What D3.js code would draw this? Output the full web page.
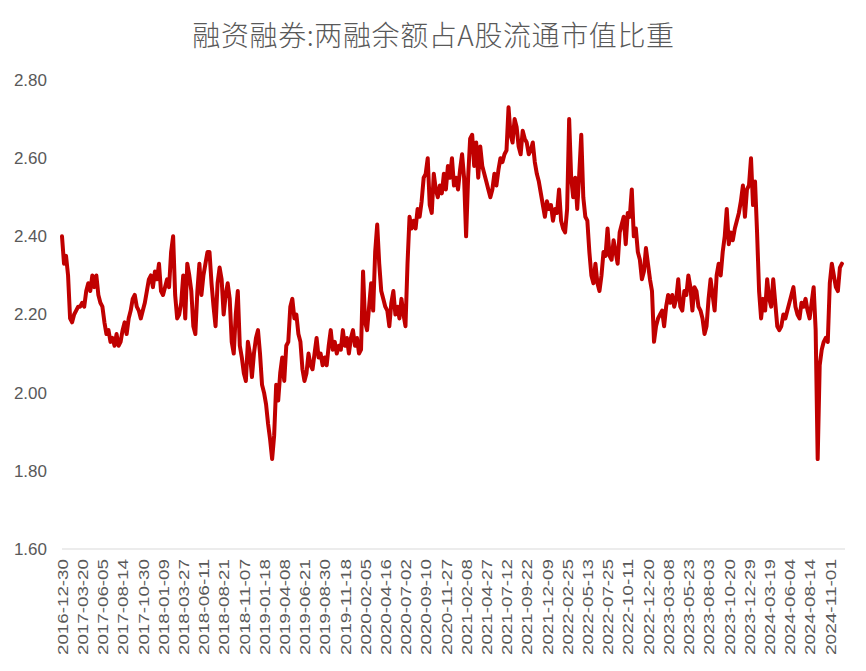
<!DOCTYPE html>
<html>
<head>
<meta charset="utf-8">
<script src="https://cdn.jsdelivr.net/npm/d3@7"></script>
<style>
  html, body { margin: 0; padding: 0; background: #ffffff; }
  svg { display: block; }
</style>
</head>
<body>
<svg id="chart" width="866" height="671"></svg>
<script>
// ---- data ----
const chartTitle = "融资融券:两融余额占A股流通市值比重";
const stepDays = 5;        // one value every 5 trading days
const tickEvery = 50;      // one tick label every 50 trading days
const tickLabels = [
  "2016-12-30","2017-03-20","2017-06-05","2017-08-14","2017-10-30",
  "2018-01-09","2018-03-27","2018-06-11","2018-08-21","2018-11-07",
  "2019-01-18","2019-04-08","2019-06-21","2019-08-30","2019-11-18",
  "2020-02-05","2020-04-16","2020-07-02","2020-09-10","2020-11-27",
  "2021-02-08","2021-04-27","2021-07-12","2021-09-22","2021-12-09",
  "2022-02-25","2022-05-13","2022-07-25","2022-10-11","2022-12-20",
  "2023-03-08","2023-05-23","2023-08-03","2023-10-20","2023-12-29",
  "2024-03-19","2024-06-04","2024-08-14","2024-11-01"
];
const yTicks = [1.60, 1.80, 2.00, 2.20, 2.40, 2.60, 2.80];
const values = [
  2.40,2.33,2.35,2.30,2.19,2.18,2.20,2.21,2.22,2.22,
  2.23,2.22,2.26,2.28,2.26,2.30,2.27,2.30,2.25,2.23,
  2.22,2.18,2.15,2.16,2.13,2.14,2.12,2.15,2.12,2.13,
  2.16,2.18,2.15,2.19,2.21,2.24,2.25,2.22,2.21,2.19,
  2.21,2.23,2.26,2.29,2.30,2.27,2.31,2.29,2.33,2.26,
  2.25,2.27,2.29,2.27,2.36,2.40,2.25,2.19,2.20,2.23,
  2.30,2.19,2.33,2.30,2.26,2.17,2.15,2.26,2.33,2.25,
  2.30,2.33,2.36,2.36,2.28,2.22,2.17,2.28,2.32,2.29,
  2.20,2.25,2.28,2.24,2.13,2.10,2.20,2.26,2.12,2.09,
  2.05,2.03,2.13,2.10,2.04,2.10,2.14,2.16,2.10,2.02,
  2.00,1.97,1.92,1.88,1.83,1.89,2.02,1.98,2.05,2.09,
  2.03,2.12,2.13,2.22,2.24,2.19,2.20,2.15,2.13,2.06,
  2.03,2.05,2.10,2.07,2.06,2.10,2.14,2.09,2.10,2.07,
  2.09,2.07,2.12,2.16,2.11,2.13,2.10,2.12,2.11,2.16,
  2.12,2.14,2.10,2.14,2.16,2.12,2.14,2.10,2.11,2.31,
  2.18,2.16,2.22,2.28,2.21,2.36,2.43,2.33,2.26,2.24,
  2.22,2.21,2.17,2.23,2.26,2.20,2.22,2.19,2.24,2.20,
  2.17,2.33,2.45,2.42,2.44,2.42,2.47,2.45,2.49,2.55,
  2.56,2.60,2.48,2.46,2.56,2.52,2.50,2.53,2.51,2.56,
  2.52,2.58,2.55,2.60,2.53,2.55,2.52,2.57,2.61,2.55,
  2.40,2.55,2.65,2.66,2.58,2.64,2.55,2.63,2.58,2.56,
  2.54,2.52,2.50,2.52,2.56,2.53,2.57,2.60,2.59,2.61,
  2.62,2.73,2.66,2.64,2.70,2.68,2.63,2.61,2.67,2.65,
  2.64,2.61,2.62,2.64,2.59,2.56,2.54,2.51,2.48,2.45,
  2.49,2.47,2.48,2.44,2.47,2.46,2.52,2.44,2.42,2.41,
  2.47,2.70,2.55,2.50,2.55,2.47,2.56,2.66,2.50,2.45,
  2.44,2.36,2.30,2.28,2.33,2.28,2.26,2.30,2.36,2.35,
  2.42,2.35,2.34,2.39,2.36,2.33,2.41,2.43,2.45,2.38,
  2.46,2.45,2.52,2.40,2.42,2.36,2.34,2.29,2.31,2.37,
  2.33,2.29,2.26,2.13,2.17,2.19,2.20,2.21,2.17,2.22,
  2.25,2.23,2.25,2.22,2.24,2.29,2.22,2.21,2.26,2.25,
  2.30,2.27,2.21,2.27,2.26,2.22,2.21,2.19,2.15,2.17,
  2.24,2.29,2.25,2.21,2.30,2.33,2.30,2.36,2.40,2.47,
  2.38,2.41,2.39,2.42,2.44,2.46,2.49,2.53,2.45,2.52,
  2.53,2.60,2.48,2.54,2.41,2.26,2.19,2.24,2.21,2.29,
  2.24,2.22,2.29,2.23,2.17,2.16,2.17,2.20,2.19,2.21,
  2.23,2.25,2.27,2.22,2.20,2.19,2.23,2.22,2.24,2.21,
  2.19,2.23,2.27,2.16,1.83,2.07,2.11,2.13,2.14,2.13,
  2.28,2.33,2.30,2.27,2.26,2.32,2.33
];

(function () {
// ---- layout ----
const W = 866;
const m = { left: 62, right: 845, top: 80, bottom: 549 };
const svg = d3.select("#chart");
const fontLatin = "'Liberation Sans', Arial, sans-serif";
const grey = "#595959";

const x = d3.scaleLinear()
  .domain([0, (tickLabels.length - 1) * tickEvery])
  .range([m.left, 829.8]);
const y = d3.scaleLinear().domain([1.60, 2.80]).range([m.bottom, m.top]);

// title
svg.append("text")
  .attr("x", W / 2 + 0.5)
  .attr("y", 46)
  .attr("text-anchor", "middle")
  .style("font-family", "'Noto Sans CJK SC', sans-serif")
  .style("font-size", "28px")
  .style("font-weight", 300)
  .style("letter-spacing", "0.6px")
  .style("fill", grey)
  .text(chartTitle);

// y axis labels
const yAxis = d3.axisLeft(y)
  .tickValues(yTicks)
  .tickFormat(d3.format(".2f"))
  .tickSize(0)
  .tickPadding(0);
const gy = svg.append("g").attr("transform", `translate(${m.left - 15},0)`).call(yAxis);
gy.select(".domain").remove();
gy.selectAll("text")
  .style("font-family", fontLatin)
  .style("font-size", "17px")
  .style("fill", grey);

// baseline
svg.append("line")
  .attr("x1", m.left).attr("x2", m.right)
  .attr("y1", y(1.60)).attr("y2", y(1.60))
  .attr("stroke", "#d9d9d9").attr("stroke-width", 1);

// x axis labels
const xAxis = d3.axisBottom(x)
  .tickValues(tickLabels.map((d, i) => i * tickEvery))
  .tickFormat((d, i) => tickLabels[i])
  .tickSize(0)
  .tickPadding(0);
const gx = svg.append("g").attr("transform", `translate(0,${m.bottom})`).call(xAxis);
gx.select(".domain").remove();
gx.selectAll("text")
  .attr("transform", "rotate(-90)")
  .attr("x", -10)
  .attr("y", 0)
  .attr("dy", "0.35em")
  .attr("text-anchor", "end")
  .attr("textLength", 96)
  .attr("lengthAdjust", "spacingAndGlyphs")
  .style("font-family", fontLatin)
  .style("font-size", "15px")
  .style("fill", grey);

// line
const line = d3.line()
  .x((d, i) => x(i * stepDays))
  .y(d => y(d));
svg.append("path")
  .datum(values)
  .attr("fill", "none")
  .attr("stroke", "#c00000")
  .attr("stroke-width", 4)
  .attr("stroke-linejoin", "round")
  .attr("stroke-linecap", "round")
  .attr("d", line);
})();
</script>
</body>
</html>
